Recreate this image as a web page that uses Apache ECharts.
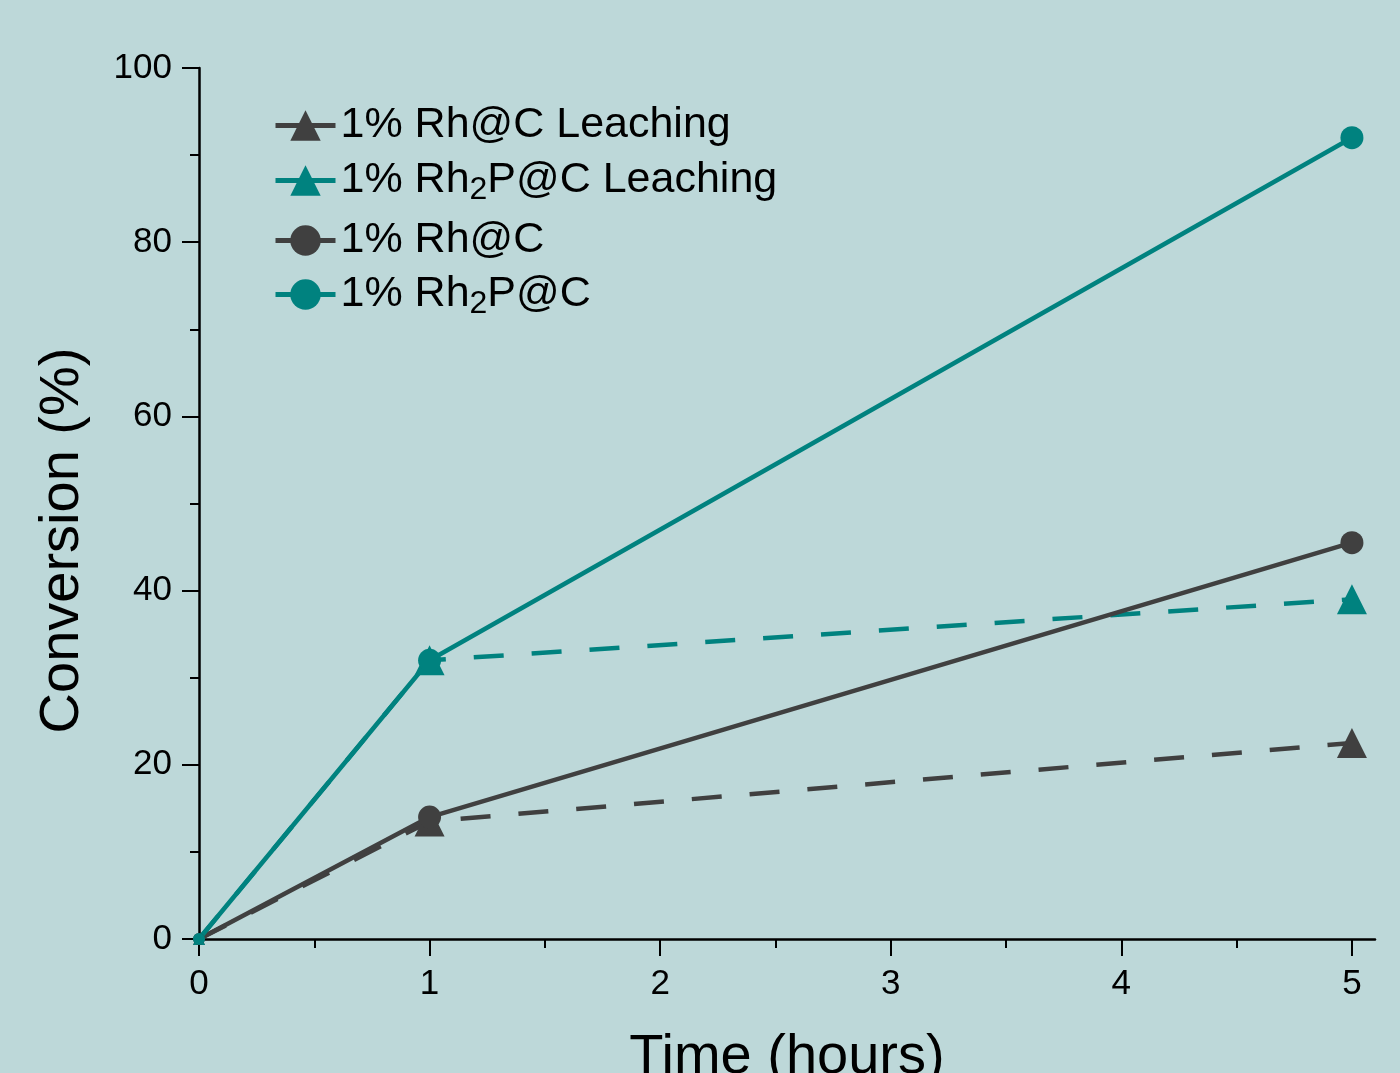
<!DOCTYPE html>
<html>
<head>
<meta charset="utf-8">
<script src="https://cdn.jsdelivr.net/npm/echarts@6/dist/echarts.min.js"></script>
<style>
  html, body { margin: 0; padding: 0; background: #bdd8d9; }
  #chartWrap { width: 1400px; height: 1073px; }
</style>
</head>
<body>
<div id="chartWrap"></div>
<script>
// time points (hours)
const times = [0, 1, 5]
// conversion (%)
const rhLeach = [0, 13.5, 22.5]
const rh2pLeach = [0, 32, 39]
const rh = [0, 14, 45.5]
const rh2p = [0, 32, 92]

const xMajorTicks = [0, 1, 2, 3, 4, 5]
const xMinorTicks = [0.5, 1.5, 2.5, 3.5, 4.5]

const names = ['1% Rh@C Leaching', '1% Rh2P@C Leaching', '1% Rh@C', '1% Rh2P@C']
const legendRows = [123, 178, 238, 292]

const TEAL = '#00827f'
const GRAY = '#404040'
const FONT = '"Liberation Sans", Arial, sans-serif'

function pts(vals) {
  return times.map((t, i) => i === 0 ? { value: [t, vals[i]], symbolSize: 12 } : [t, vals[i]])
}

function fmtName(n) {
  const p = n.split('Rh2P')
  if (p.length === 1) return '{t|' + n + '}'
  return '{t|' + p[0] + 'Rh}{s|2}{t|P' + p[1] + '}'
}

function mkSeries(name, vals, color, symbol, dashed, size) {
  return {
    name: name,
    type: 'line',
    data: pts(vals),
    symbol: symbol,
    symbolSize: size,
    showSymbol: true,
    clip: false,
    lineStyle: { color: color, width: 4.5, type: dashed ? [30, 28] : 'solid' },
    itemStyle: { color: color },
    emphasis: { disabled: true },
    animation: false
  }
}

const chart = echarts.init(document.getElementById('chartWrap'))

const option = {
  backgroundColor: '#bdd8d9',
  textStyle: { fontFamily: FONT },
  grid: { left: 199, right: 25, top: 68, bottom: 134, outerBoundsMode: 'none' },
  legend: names.map((n, i) => ({
    data: [n],
    left: 268,
    top: legendRows[i] - 24,
    orient: 'vertical',
    itemWidth: 60,
    itemHeight: 38,
    itemGap: 0,
    lineStyle: { type: 'solid', width: 5 },
    selectedMode: false,
    formatter: fmtName,
    textStyle: {
      color: '#000',
      fontFamily: FONT,
      rich: {
        t: { fontSize: 43, fontFamily: FONT, color: '#000', lineHeight: 48 },
        s: { fontSize: 32, fontFamily: FONT, color: '#000', padding: [20, 0, 0, 0] }
      }
    }
  })),
  xAxis: [
    {
      type: 'value',
      min: 0,
      max: 5.1,
      interval: 1,
      name: 'Time (hours)',
      nameLocation: 'middle',
      nameGap: 91,
      nameTextStyle: { fontSize: 56, color: '#000', fontFamily: FONT },
      axisLine: { lineStyle: { color: '#000', width: 2.5 } },
      axisTick: { length: 17, inside: false, lineStyle: { color: '#000', width: 2 }, customValues: xMajorTicks },
      axisLabel: { fontSize: 35, color: '#000', margin: 28, customValues: xMajorTicks },
      splitLine: { show: false }
    },
    {
      type: 'value',
      min: 0,
      max: 5.1,
      position: 'bottom',
      axisLine: { show: false },
      axisTick: { length: 9, lineStyle: { color: '#000', width: 2 }, customValues: xMinorTicks },
      axisLabel: { show: false },
      splitLine: { show: false }
    }
  ],
  yAxis: {
    type: 'value',
    min: 0,
    max: 100,
    interval: 20,
    name: 'Conversion (%)',
    nameLocation: 'middle',
    nameGap: 108,
    nameTextStyle: { fontSize: 56, color: '#000', fontFamily: FONT, padding: [0, 74, 0, 0] },
    axisLine: { show: true, lineStyle: { color: '#000', width: 2.5 } },
    axisTick: { show: true, length: 17, lineStyle: { color: '#000', width: 2 } },
    minorTick: { show: true, splitNumber: 2, length: 9, lineStyle: { color: '#000', width: 2 } },
    axisLabel: { fontSize: 35, color: '#000', margin: 27 },
    splitLine: { show: false }
  },
  series: [
    mkSeries(names[0], rhLeach, GRAY, 'triangle', true, 30),
    mkSeries(names[1], rh2pLeach, TEAL, 'triangle', true, 30),
    mkSeries(names[2], rh, GRAY, 'circle', false, 23),
    mkSeries(names[3], rh2p, TEAL, 'circle', false, 23)
  ]
}

chart.setOption(option)
</script>
</body>
</html>
